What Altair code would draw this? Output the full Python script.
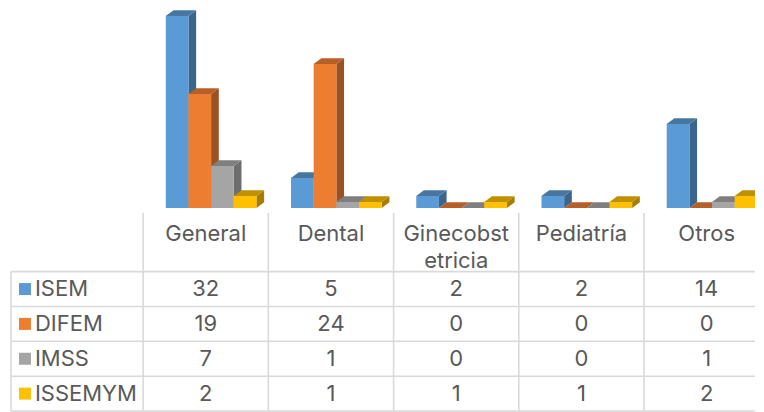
import altair as alt
import pandas as pd

categories = ["General", "Dental", "Ginecobst\netricia", "Pediatría", "Otros"]
series_names = ["ISEM", "DIFEM", "IMSS", "ISSEMYM"]
isem = [32, 5, 2, 2, 14]
difem = [19, 24, 0, 0, 0]
imss = [7, 1, 0, 0, 1]
issemym = [2, 1, 1, 1, 2]
all_series = [isem, difem, imss, issemym]

front_colors = ["#5B9BD5", "#ED7D31", "#A5A5A5", "#FFC000"]
top_colors = ["#47779F", "#B65F28", "#7F7F7F", "#BF9000"]
side_colors = ["#3A668D", "#9A5224", "#6E6E6E", "#A67D00"]

GRID = "#D9D9D9"
TEXT = "#595959"
FONT = "Inter"
FS = 22

W = 748
H1 = 200
H2 = 204
STEP = 125.4
X0 = 143.3
XDOM = [(8 - X0) / STEP, (756 - X0) / STEP]
YDOM = [0, 200.3 / 6.02]
BAR = 0.181
DX = 0.0614
DY = 0.95
ROWH = 34.9
RDOM = [(208 - 271.7) / ROWH, (412 - 271.7) / ROWH]

fr, sd, tp = [], [], []
for s, vals in enumerate(all_series):
    name = series_names[s]
    for c, v in enumerate(vals):
        xl = c + BAR * (1 + s)
        xr = xl + BAR
        bid = f"{s}-{c}"
        if v > 0:
            fr.append(dict(series=name, xl=xl, xr=xr, v=v, base=0))
            sd.append(dict(series=name, id=bid, x=xr, y=v, y2=0))
            sd.append(dict(series=name, id=bid, x=xr + DX, y=v + DY, y2=DY))
        tp.append(dict(series=name, id=bid, y=v, x=xl, x2=xr))
        tp.append(dict(series=name, id=bid, y=v + DY, x=xl + DX, x2=xr + DX))

xs = alt.Scale(domain=XDOM, nice=False, zero=False)
ys = alt.Scale(domain=YDOM, nice=False, zero=False)
rs = alt.Scale(domain=RDOM, nice=False, zero=False, reverse=True)


def col(rng):
    return alt.Color("series:N", scale=alt.Scale(domain=series_names, range=rng), legend=None)


side = alt.Chart(pd.DataFrame(sd)).mark_area(orient="vertical", clip=True).encode(
    x=alt.X("x:Q", scale=xs, axis=None),
    y=alt.Y("y:Q", scale=ys, axis=None, stack=None),
    y2="y2:Q",
    detail="id:N",
    color=col(side_colors),
)
top = alt.Chart(pd.DataFrame(tp)).mark_area(orient="horizontal", clip=True).encode(
    y=alt.Y("y:Q", scale=ys, axis=None, stack=None),
    x=alt.X("x:Q", scale=xs, axis=None, stack=None),
    x2="x2:Q",
    detail="id:N",
    color=col(top_colors),
)
front = alt.Chart(pd.DataFrame(fr)).mark_rect(clip=True).encode(
    x=alt.X("xl:Q", scale=xs, axis=None),
    x2="xr:Q",
    y=alt.Y("v:Q", scale=ys, axis=None),
    y2="base:Q",
    color=col(front_colors),
)
bars = alt.layer(side, top, front).resolve_scale(color="independent").properties(width=W, height=H1)

header_top = (213 - 271.7) / ROWH
left_edge = (11 - X0) / STEP
vdf = pd.DataFrame(
    [dict(x=c, y=header_top, y2=4) for c in range(5)] + [dict(x=left_edge, y=0, y2=4)]
)
hdf = pd.DataFrame([dict(y=r, x=left_edge, x2=XDOM[1]) for r in range(5)])
vr = alt.Chart(vdf).mark_rule(color=GRID, strokeWidth=1.6).encode(
    x=alt.X("x:Q", scale=xs, axis=None), y=alt.Y("y:Q", scale=rs, axis=None), y2="y2:Q"
)
hr = alt.Chart(hdf).mark_rule(color=GRID, strokeWidth=1.6).encode(
    y=alt.Y("y:Q", scale=rs, axis=None), x=alt.X("x:Q", scale=xs, axis=None), x2="x2:Q"
)

hdr = pd.DataFrame([dict(t=c, x=i + 0.5, y=(240.7 - 271.7) / ROWH) for i, c in enumerate(categories)])
head_txt = alt.Chart(hdr).mark_text(
    font=FONT, fontSize=FS, color=TEXT, align="center", baseline="alphabetic", lineBreak="\n", lineHeight=27
).encode(x=alt.X("x:Q", scale=xs, axis=None), y=alt.Y("y:Q", scale=rs, axis=None), text="t:N")

cells = pd.DataFrame(
    [dict(t=str(v), x=c + 0.5, y=r + 0.5) for r, vals in enumerate(all_series) for c, v in enumerate(vals)]
)
cell_txt = alt.Chart(cells).mark_text(
    font=FONT, fontSize=FS, color=TEXT, align="center", baseline="middle"
).encode(x=alt.X("x:Q", scale=xs, axis=None), y=alt.Y("y:Q", scale=rs, axis=None), text="t:N")

rows = pd.DataFrame(
    [dict(series=n, y=r + 0.5, xs=(25 - X0) / STEP, xt=(35 - X0) / STEP) for r, n in enumerate(series_names)]
)
swatch = alt.Chart(rows).mark_square(size=144, opacity=1).encode(
    x=alt.X("xs:Q", scale=xs, axis=None),
    y=alt.Y("y:Q", scale=rs, axis=None),
    color=col(front_colors),
)
row_txt = alt.Chart(rows).mark_text(
    font=FONT, fontSize=FS, color=TEXT, align="left", baseline="middle"
).encode(x=alt.X("xt:Q", scale=xs, axis=None), y=alt.Y("y:Q", scale=rs, axis=None), text="series:N")

table = alt.layer(vr, hr, head_txt, cell_txt, swatch, row_txt).properties(width=W, height=H2)

chart = (
    alt.vconcat(bars, table, spacing=0, padding=0, bounds="flush")
    .configure_view(stroke=None)
    .configure_concat(spacing=0)
)
chart.save("out.html", embed_options={"renderer": "svg", "actions": False})
